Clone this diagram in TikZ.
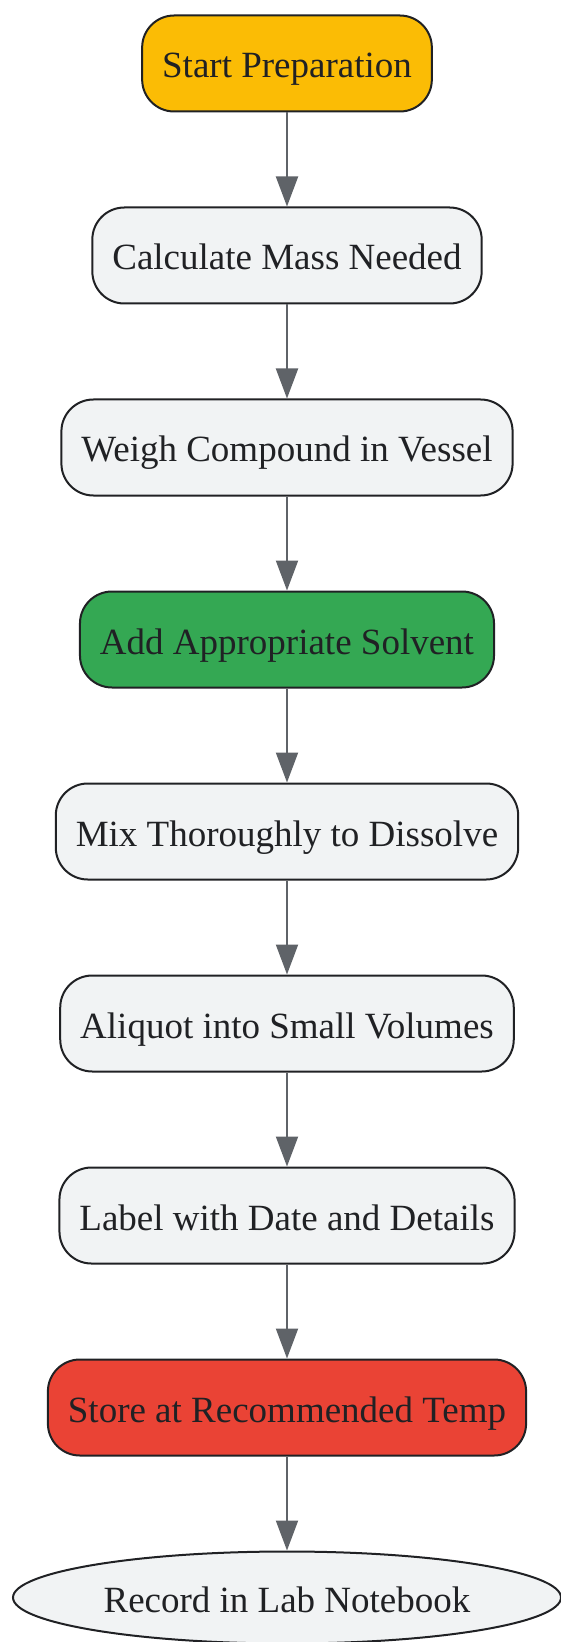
\documentclass[tikz,border=0pt]{standalone}
\usepackage{fontspec}
\setmainfont{Liberation Serif}
\usepackage{tikz}
\usetikzlibrary{positioning,arrows.meta,shapes.geometric}
\definecolor{startcol}{HTML}{FBBC05}
\definecolor{solvcol}{HTML}{34A853}
\definecolor{storecol}{HTML}{EA4335}
\definecolor{stepcol}{HTML}{F1F3F4}
\definecolor{linecol}{HTML}{202124}
\definecolor{arrowcol}{HTML}{5F6368}
\tikzstyle{every node}=[font=\fontsize{18.5}{22}\selectfont, text=linecol,
  text height=14.5pt, text depth=0pt]
\tikzset{stepbox/.style={rectangle, rounded corners=16pt, draw=linecol, line width=1pt,
      fill=stepcol, minimum height=48pt, inner xsep=10pt},
  endbox/.style={ellipse, draw=linecol, line width=1pt, fill=stepcol,
      minimum width=274pt, minimum height=46pt, inner sep=0pt},
  flow/.style={draw=arrowcol, line width=1pt, -{Triangle[length=15pt,width=11pt]}}}

\begin{document}
\begin{tikzpicture}[node distance=47pt]
    \useasboundingbox (-143.5pt,31.75pt) rectangle (137pt,-789.25pt);
    \node[stepbox, fill=startcol] (start) at (0,0) {Start Preparation};
    \node[stepbox, below=of start] (calc) {Calculate Mass Needed};
    \node[stepbox, below=of calc] (weigh) {Weigh Compound in Vessel};
    \node[stepbox, fill=solvcol, below=of weigh] (solvent) {Add Appropriate Solvent};
    \node[stepbox, below=of solvent] (mix) {Mix Thoroughly to Dissolve};
    \node[stepbox, below=of mix] (aliquot) {Aliquot into Small Volumes};
    \node[stepbox, below=of aliquot] (label) {Label with Date and Details};
    \node[stepbox, fill=storecol, below=of label] (store) {Store at Recommended Temp};
    \node[endbox, below=of store] (record) {Record in Lab Notebook};
    \foreach \a/\b in {start/calc, calc/weigh, weigh/solvent, solvent/mix,
        mix/aliquot, aliquot/label, label/store, store/record}
      \draw[flow] (\a) -- (\b);
  \end{tikzpicture}
\end{document}
